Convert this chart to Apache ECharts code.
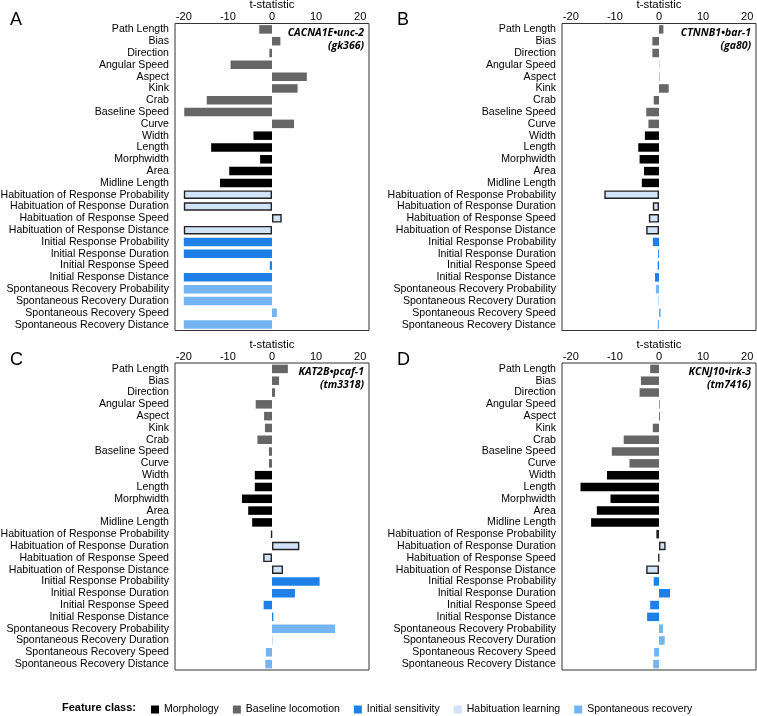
<!DOCTYPE html>
<html>
<head>
    <meta charset="utf-8">
    <title>t-statistic panels</title>
    <script src="https://cdn.jsdelivr.net/npm/echarts@6/dist/echarts.min.js"></script>
</head>
<body style="margin:0">
    <div id="main" style="width:757px;height:716px;"></div>
    <script type="text/javascript">
        // feature names, top to bottom
        var categories = [
            'Path Length', 'Bias', 'Direction', 'Angular Speed', 'Aspect', 'Kink', 'Crab',
            'Baseline Speed', 'Curve', 'Width', 'Length', 'Morphwidth', 'Area', 'Midline Length',
            'Habituation of Response Probability', 'Habituation of Response Duration',
            'Habituation of Response Speed', 'Habituation of Response Distance',
            'Initial Response Probability', 'Initial Response Duration',
            'Initial Response Speed', 'Initial Response Distance',
            'Spontaneous Recovery Probability', 'Spontaneous Recovery Duration',
            'Spontaneous Recovery Speed', 'Spontaneous Recovery Distance'
        ];
        var featureClass = [
            'Baseline locomotion', 'Baseline locomotion', 'Baseline locomotion', 'Baseline locomotion',
            'Baseline locomotion', 'Baseline locomotion', 'Baseline locomotion', 'Baseline locomotion',
            'Baseline locomotion', 'Morphology', 'Morphology', 'Morphology', 'Morphology', 'Morphology',
            'Habituation learning', 'Habituation learning', 'Habituation learning', 'Habituation learning',
            'Initial sensitivity', 'Initial sensitivity', 'Initial sensitivity', 'Initial sensitivity',
            'Spontaneous recovery', 'Spontaneous recovery', 'Spontaneous recovery', 'Spontaneous recovery'
        ];
        var classNames = ['Morphology', 'Baseline locomotion', 'Initial sensitivity', 'Habituation learning', 'Spontaneous recovery'];
        var classColors = ['#000000', '#666666', '#1e80e6', '#d0e3f8', '#74b4f2'];

        // t-statistics per strain
        var valuesA = [-2.9, 1.9, -0.6, -9.4, 7.9, 5.8, -14.8, -19.9, 5.0, -4.2, -13.8, -2.7, -9.7, -11.8,
                       -20, -20, 2.2, -20, -20, -20, -0.5, -20, -20, -20, 1.1, -20];
        var valuesB = [1.0, -1.5, -1.5, 0.05, 0.1, 2.2, -1.2, -2.9, -2.4, -3.2, -4.7, -4.4, -3.4, -3.9,
                       -12.4, -1.4, -2.3, -2.9, -1.4, -0.2, -0.3, -0.9, -0.7, -0.1, 0.4, -0.3];
        var valuesC = [3.6, 1.6, 0.7, -3.7, -1.8, -1.6, -3.3, -0.7, -0.7, -3.9, -3.9, -6.8, -5.4, -4.5,
                       -0.2, 6.2, -2.0, 2.5, 10.8, 5.2, -1.9, 0.3, 14.3, 0.1, -1.4, -1.5];
        var valuesD = [-2.0, -4.1, -4.4, 0.15, 0.2, -1.4, -8.0, -10.7, -6.7, -11.8, -17.8, -11.0, -14.1, -15.4,
                       -0.6, 1.5, -0.1, -2.9, -1.2, 2.5, -2.0, -2.7, 0.9, 1.3, -1.1, -1.3];

        var panels = [
            {letter: 'A', gene: 'CACNA1E\u2022unc-2', allele: '(gk366)', values: valuesA, left: 175, top: 23.5},
            {letter: 'B', gene: 'CTNNB1\u2022bar-1', allele: '(ga80)', values: valuesB, left: 562, top: 23.5},
            {letter: 'C', gene: 'KAT2B\u2022pcaf-1', allele: '(tm3318)', values: valuesC, left: 175, top: 363},
            {letter: 'D', gene: 'KCNJ10\u2022irk-3', allele: '(tm7416)', values: valuesD, left: 562, top: 363}
        ];

        var font = 'Liberation Sans, Arial, sans-serif';
        var grids = [], xAxes = [], yAxes = [], series = [], graphics = [];

        panels.forEach(function (p, gi) {
            grids.push({
                left: p.left, top: p.top, width: 194, height: 307,
                outerBoundsMode: 'none', containLabel: false,
                show: true, borderColor: '#333', borderWidth: 1
            });
            xAxes.push({
                gridIndex: gi, type: 'value', position: 'top', min: -22, max: 22,
                name: 't-statistic', nameLocation: 'middle', nameGap: 13, nameMoveOverlap: false,
                nameTextStyle: {fontFamily: font, fontSize: 11.4, color: '#000'},
                axisLine: {show: false}, axisTick: {show: false}, splitLine: {show: false},
                axisLabel: {showMinLabel: false, showMaxLabel: false, margin: 1,
                            fontFamily: font, fontSize: 11, color: '#000'}
            });
            yAxes.push({
                gridIndex: gi, type: 'category', inverse: true, data: categories,
                axisLine: {show: false}, axisTick: {show: false}, splitLine: {show: false},
                axisLabel: {interval: 0, margin: 6, fontFamily: font, fontSize: 10.6, color: '#000'}
            });
            classNames.forEach(function (cls, ci) {
                var style = {color: classColors[ci]};
                if (cls === 'Habituation learning') {
                    style.borderColor = '#222';
                    style.borderWidth = 1.4;
                }
                series.push({
                    name: cls, type: 'bar', xAxisIndex: gi, yAxisIndex: gi,
                    barGap: '-100%', barCategoryGap: '28%',
                    itemStyle: style,
                    data: p.values.map(function (v, i) { return featureClass[i] === cls ? v : '-'; })
                });
            });
            var baseX = gi % 2 === 0 ? 0 : 387;
            graphics.push({
                type: 'text', left: baseX + 10, top: p.top - 12,
                style: {text: p.letter, font: '18px ' + font, fill: '#000'}
            });
            graphics.push({
                type: 'text', x: p.left + 189, y: p.top + 3,
                style: {text: p.gene + '\n' + p.allele, align: 'right', verticalAlign: 'top',
                        lineHeight: 13, font: 'italic bold 10.5px Open Sans, sans-serif', fill: '#000'}
            });
        });

        graphics.push({
            type: 'text', x: 62, y: 708,
            style: {text: 'Feature class:', verticalAlign: 'middle', font: 'bold 11px ' + font, fill: '#000'}
        });

        var chart = echarts.init(document.getElementById('main'));
        chart.setOption({
            animation: false,
            grid: grids,
            xAxis: xAxes,
            yAxis: yAxes,
            series: series,
            graphic: graphics,
            legend: {
                left: 151, top: 704, width: 700, padding: 0, icon: 'rect',
                itemWidth: 8, itemHeight: 8, itemGap: 14,
                textStyle: {fontFamily: font, fontSize: 10.5, color: '#000'},
                data: classNames.map(function (n) { return {name: n, itemStyle: {borderWidth: 0}}; })
            }
        });
    </script>
</body>
</html>
